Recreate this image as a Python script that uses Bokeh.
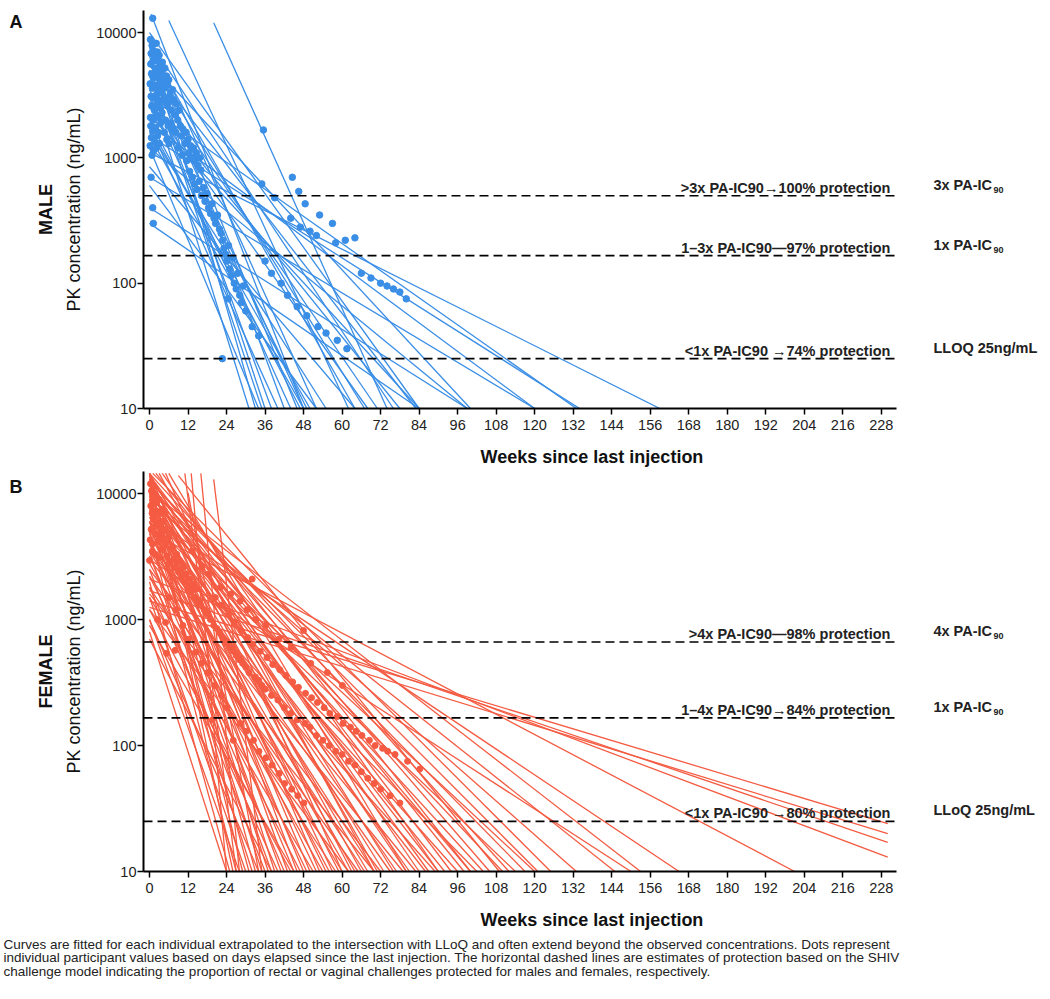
from bokeh.plotting import figure
from bokeh.layouts import column, row
from bokeh.models import Range1d, FixedTicker, PrintfTickFormatter, LogAxis
from bokeh.core.properties import value
from bokeh.embed import file_html
from bokeh.resources import INLINE

# ---------------- data ----------------
week_ticks = [0, 12, 24, 36, 48, 60, 72, 84, 96, 108, 120, 132, 144, 156, 168, 180, 192, 204, 216, 228]
conc_ticks = [10, 100, 1000, 10000]

PA_IC90 = 166
LLOQ = 25

# Male individual fitted lines: start week, start conc, end week, end conc
male_w0 = [0.5, 6, 20, 0, 0, 1, 0, 2, 0, 0, 1, 0, 0, 2, 0, 0, 0, 3, 0, 0, 0, 0, 0, 0, 0, 0, 0, 0, 0, 0, 0, 0, 0, 0, 0, 0, 0, 0, 8, 0]
male_c0 = [14000, 12500, 12000, 9000, 8000, 7000, 6500, 6000, 5000, 4500, 4000, 3500, 3000, 2500, 2000, 1800, 1500, 1300, 1200,
           7500, 6000, 4500, 8500, 3000, 5500, 2200, 2800, 1600, 10000, 1200, 700, 1900, 2500, 1500, 1100, 400, 300, 850, 3500, 600]
male_w1 = [48, 62, 74, 52, 46, 42, 36, 33, 48, 38, 35, 49, 44, 31, 47, 40, 48, 50, 34,
           64, 67, 71, 76, 78, 83, 84, 68, 55, 84, 99, 120, 120, 133, 134, 159, 99, 84, 64, 100, 52]
male_c1 = [10] * 40

# Male observed concentrations
male_dot_week = [0.3, 0.8, 1.0, 0.5, 1.2, 1.6, 2.1, 2.5, 0.4, 1.1, 1.8, 2.4, 3.0, 3.3, 0.6, 1.4, 2.0, 2.8, 3.6, 4.0,
                 0.2, 0.9, 1.7, 2.6, 3.2, 4.2, 0.5, 1.3, 2.2, 3.0, 3.8, 4.5, 0.7, 1.5, 2.4, 3.4, 4.3, 0.3, 1.2, 2.0,
                 2.9, 3.9, 0.4, 1.0, 1.9, 2.7, 3.5, 0.6, 1.6, 2.5, 0.2, 1.3, 2.2, 3.1, 0.8,
                 4.8, 5.3, 5.6, 6.0, 6.4, 4.9, 5.5, 6.2, 6.8, 7.2, 7.5, 8.0, 8.4, 5.0, 5.8, 6.6, 7.4, 8.2, 8.8, 9.2,
                 9.6, 10.0, 4.6, 5.4, 6.1,
                 10.4, 11.0, 11.4, 12.0, 12.3, 12.8, 13.3, 13.7, 14.2, 14.6, 15.1, 15.6, 16.0, 9.0, 10.2, 11.6,
                 12.5, 13.4, 14.0, 14.8, 15.5, 16.2, 16.8, 17.3, 17.9, 18.4, 19.0, 19.5, 20.1, 20.6, 21.2, 21.8, 22.3,
                 22.8, 23.2, 23.7, 24.1, 24.6, 25.0, 25.5, 26.0, 26.4, 27.0, 27.5, 28.1, 28.6, 29.2, 30.0, 22.7, 24.5,
                 0.5, 1.0, 1.2,
                 35.5, 35.0, 39.0, 44.0, 47.0, 50.0, 52.0, 58.0, 61.0, 64.0, 66.0, 69.0, 72.0, 74.0, 76.0, 78.0, 80.0,
                 36.0, 38.0, 41.0, 43.0, 46.0, 49.0, 52.5, 55.0, 58.5, 61.5, 32.0, 34.0, 44.5, 46.5, 48.5, 53.0, 57.0]
male_dot_conc = [8800, 7900, 13000, 6800, 7200, 6400, 8200, 7000, 5600, 5900, 5200, 6000, 6600, 5400, 4700, 4400, 4900, 4300, 4800, 5800,
                 3900, 3600, 3800, 3500, 3900, 4100, 3100, 3000, 3200, 2900, 3300, 3600, 2600, 2400, 2700, 2500, 2800, 2100, 2000, 2200,
                 2100, 2300, 1800, 1650, 1750, 1600, 1900, 1450, 1350, 1500, 1250, 1150, 1200, 1300, 1050,
                 5200, 4500, 3800, 4200, 3200, 3000, 2600, 2800, 2400, 3500, 2900, 2200, 2700, 2000, 1800, 1900, 1700, 1600, 2000, 2400,
                 1800, 1500, 1600, 1400, 1300,
                 1700, 1300, 1600, 1400, 1100, 1250, 1000, 1200, 950, 1100, 870, 1000, 800, 1200, 1050, 950,
                 780, 700, 620, 560, 650, 500, 580, 450, 520, 400, 360, 430, 330, 300, 350, 270, 250,
                 220, 190, 170, 150, 200, 130, 115, 160, 100, 90, 120, 80, 70, 95, 60, 25, 75,
                 700, 400, 300,
                 1670, 620, 480, 330, 280, 260, 240, 210, 220, 230, 120, 110, 100, 95, 90, 85, 75,
                 150, 120, 100, 80, 65, 55, 45, 40, 35, 30, 45, 38, 700, 540, 430, 350, 300]

# Female individual fitted lines
female_w0 = [0, 0, 0, 0, 0, 0, 0, 0, 9, 0, 0, 0, 0, 0, 0, 0, 0, 0, 0, 0,
             0, 0, 0, 0, 0, 0, 0, 0, 0, 0, 0, 0, 0, 0, 0, 0, 0, 0, 0, 0,
             0, 0, 0, 0, 0, 0, 0, 0, 0, 0, 0, 0, 0, 0, 0, 0, 0, 0, 0, 0,
             0, 0, 0, 0, 0, 0, 0, 0, 0, 0, 0, 0, 0, 0, 0, 0, 0, 0, 0, 13,
             16, 20, 12, 11, 0, 0, 0, 0, 2, 4, 6, 3, 5, 1, 0, 0, 0, 0, 0, 0]
female_c0 = [10500, 5000, 6500, 8500, 9500, 12500, 7000, 14500, 13900, 11000, 6000, 13000, 8000, 4500, 10000, 12000, 5500, 14000, 7500, 9000,
             3500, 11500, 6500, 13500, 4000, 8500, 10500, 3000, 7000, 12500, 5000, 9500, 2500, 14500, 6000, 8000, 4000, 11000, 2200, 7000,
             13000, 5500, 3500, 9000, 1800, 12000, 4800, 7500, 2800, 14500, 6000, 1500, 10000, 4000, 8500, 2200, 13000, 5500, 1200, 11000,
             3200, 7000, 1800, 14000, 4500, 9000, 2500, 6000, 1000, 12000, 3500, 8000, 1500, 10000, 1000, 5000, 14500, 2000, 800, 14500,
             14500, 13000, 10200, 14500, 1400, 1250, 1700, 2100, 14500, 14500, 14500, 14500, 14500, 14500, 9500, 3000, 1200, 900, 700, 1600]
female_w1 = [153, 201, 165, 145, 133, 121, 120, 112, 109, 117, 114, 106, 104, 102, 100, 98, 96, 94, 92, 90,
             89, 87, 86, 84, 83, 81, 80, 79, 77, 76, 75, 73, 72, 71, 70, 68, 67, 66, 65, 64,
             63, 62, 60, 59, 58, 57, 56, 55, 54, 53, 52, 51, 50, 49, 48, 47, 46, 45, 44, 43,
             42, 41, 40, 39, 38, 37, 36, 35, 34, 33, 32, 31, 30, 29, 28, 27, 26, 25, 24, 24,
             28, 35, 34, 27, 230, 230, 230, 230, 100, 90, 80, 70, 60, 125, 110, 150, 62, 45, 38, 70]
female_c1 = [10] * 84 + [24, 20, 17, 13] + [10] * 12

female_dot_week = [0.3, 0.6, 1.0, 0.4, 1.4, 1.8, 2.2, 0.8, 1.2, 2.0, 2.6, 3.0, 0.5, 1.6, 2.4, 3.2, 3.8, 0.2, 1.0, 2.8,
                   3.5, 4.2, 4.8, 0.0, 0.9, 1.9, 3.0, 4.0, 5.0, 5.5, 6.0, 6.5, 7.0, 7.5, 8.0, 8.5, 9.0, 9.5, 10.0, 10.5,
                   11.0, 11.5, 12.0, 12.5, 13.0, 13.5, 14.0, 14.5, 15.0, 16.0, 17.0, 18.0, 19.0, 20.0, 21.0, 22.0, 23.0, 24.0, 25.0, 26.0,
                   27.0, 28.0, 29.0, 30.0, 31.0, 32.0, 33.0, 34.0, 35.0, 36.0, 38.0, 40.0, 42.0, 44.0, 46.0, 48.0, 48.5, 50.0, 52.0, 54.0,
                   56.0, 58.0, 60.0, 62.0, 64.0, 66.0, 68.0, 70.0, 72.0, 75.0, 78.0, 2.5, 5.0, 5.3, 8.0,
                   6.2, 8.3, 10.4, 12.1, 14.3, 16.2, 18.1, 19.6, 20.3, 22.4, 24.2, 26.1, 28.3, 30.2, 32.4, 34.1, 36.3, 38.2, 40.4, 42.1,
                   44.3, 46.2, 48.1, 20.5, 22.2, 24.6, 26.4, 28.5, 30.6, 32.2, 34.5, 36.6, 38.4, 40.6, 42.5, 44.6, 46.4, 48.6, 50.5, 52.3,
                   54.4, 56.2, 58.5, 60.3, 62.6, 64.4, 66.2, 68.5, 70.3, 72.6, 74.2, 76.5, 80.4, 84.2,
                   22.1, 25.3, 28.2, 30.4, 33.1, 36.2, 40.3, 44.1, 50.2, 55.4, 60.1, 16.3, 18.4, 13.2]
female_dot_conc = [12000, 10500, 9000, 8000, 11500, 9800, 8500, 7000, 6200, 7200, 6800, 9000, 5200, 5500, 4800, 5800, 7500, 4300, 4000, 4200,
                   4600, 6000, 5100, 2950, 3500, 3300, 3100, 3600, 4000, 3200, 4500, 2800, 3700, 3000, 2600, 3300, 2400, 2900, 2200, 2600,
                   2000, 2300, 1800, 2100, 1700, 1900, 1500, 1750, 1400, 1300, 1200, 1100, 1000, 900, 850, 780, 700, 650, 600, 560,
                   520, 480, 450, 420, 380, 2100, 350, 330, 300, 280, 250, 230, 200, 180, 160, 820, 150, 140, 120, 110,
                   100, 90, 85, 75, 70, 62, 55, 50, 45, 40, 35, 1000, 950, 540, 570,
                   1500, 1200, 900, 700, 550, 450, 380, 160, 300, 250, 200, 110, 150, 130, 110, 90, 80, 70, 60, 50,
                   45, 40, 35, 1500, 1300, 1100, 950, 820, 720, 640, 560, 500, 440, 400, 360, 320, 290, 260, 240, 220,
                   200, 180, 170, 150, 140, 130, 120, 110, 100, 95, 90, 85, 75, 65,
                   1800, 1600, 1400, 1200, 1000, 900, 700, 600, 450, 380, 300, 2600, 2300, 3500]

male_levels = [3 * PA_IC90, PA_IC90, LLOQ]
male_protection = [">3x PA-IC90\u2192100% protection", "1\u20133x PA-IC90\u201497% protection", "<1x PA-IC90 \u219274% protection"]
male_level_names = ["3x PA-IC", "1x PA-IC", "LLOQ 25ng/mL"]
male_level_subs = ["90", "90", ""]

female_levels = [4 * PA_IC90, PA_IC90, LLOQ]
female_protection = [">4x PA-IC90\u201498% protection", "1\u20134x PA-IC90\u219284% protection", "<1x PA-IC90 \u219280% protection"]
female_level_names = ["4x PA-IC", "1x PA-IC", "LLoQ 25ng/mL"]
female_level_subs = ["90", "90", ""]

caption_lines = [
    "Curves are fitted for each individual extrapolated to the intersection with LLoQ and often extend beyond the observed concentrations. Dots represent",
    "individual participant values based on days elapsed since the last injection. The horizontal dashed lines are estimates of protection based on the SHIV",
    "challenge model indicating the proportion of rectal or vaginal challenges protected for males and females, respectively.",
]

# ---------------- layout constants ----------------
FONT = "Liberation Sans"
X_START, X_END, AXIS_END = -1.87, 277.6, 232.7
Y_START, Y_END = 10, 15000
PX_PER_WEEK = 3.21
FRAME_LEFT = 143
FRAME_H = 401
SIDE_W = 30
MAIN_W = 1012
TOTAL_W = SIDE_W + MAIN_W


def page_x(px):
    return X_START + (px - FRAME_LEFT) / PX_PER_WEEK


def blank_fig(width, height):
    f = figure(width=width, height=height, x_range=Range1d(0, width), y_range=Range1d(0, height),
               x_axis_location=None, y_axis_location=None, min_border=0,
               output_backend="svg", toolbar_location=None)
    f.outline_line_color = None
    f.grid.visible = False
    return f


def side_panel(height, letter, letter_mid):
    f = blank_fig(SIDE_W, height)
    f.text([9], [height - letter_mid], text=[letter], text_font=value(FONT), text_font_size="18px",
           text_font_style="bold", text_color="#111111", text_align="left", text_baseline="middle")
    return f


def make_panel(height, top, color, dot_size, lw0, lc0, lw1, lc1, dw, dc, levels, prot, names, subs, sex):
    p = figure(width=MAIN_W, height=height, y_axis_type="log",
               x_range=Range1d(X_START, X_END), y_range=Range1d(Y_START, Y_END),
               output_backend="svg", toolbar_location=None,
               min_border_left=FRAME_LEFT - SIDE_W, min_border_right=2, min_border_top=top,
               min_border_bottom=height - top - FRAME_H)
    p.outline_line_color = None
    p.grid.visible = False

    xs = [[a, b] for a, b in zip(lw0, lw1)]
    ys = [[a, b] for a, b in zip(lc0, lc1)]
    p.multi_line(xs, ys, line_color=color, line_width=1.3)
    p.scatter(dw, dc, size=dot_size, color=color, line_color=color)

    p.multi_line([[X_START, AXIS_END]] * len(levels), [[v, v] for v in levels],
                 line_color="black", line_width=1.6, line_dash="9 5")
    p.text([page_x(890)] * len(levels), levels, text=prot, text_font=value(FONT),
           text_font_size="14.5px", text_font_style="bold", text_color="#222222",
           text_align="right", text_baseline="alphabetic", y_offset=-8)
    p.text([page_x(933)] * len(levels), levels, text=names, text_font=value(FONT),
           text_font_size="14.5px", text_font_style="bold", text_color="#222222",
           text_align="left", text_baseline="middle", y_offset=-11)
    p.text([page_x(993)] * len(levels), levels, text=subs, text_font=value(FONT),
           text_font_size="9px", text_font_style="bold", text_color="#222222",
           text_align="left", text_baseline="middle", y_offset=-6)

    ax = p.xaxis[0]
    ax.bounds = (X_START, AXIS_END)
    ax.ticker = FixedTicker(ticks=week_ticks)
    ax.axis_label = "Weeks since last injection"
    ay = p.yaxis[0]
    ay.ticker = FixedTicker(ticks=conc_ticks)
    ay.formatter = PrintfTickFormatter(format="%d")
    ay.axis_label = "PK concentration (ng/mL)"
    for a in (ax, ay):
        a.axis_line_width = 2
        a.axis_line_color = "black"
        a.major_tick_line_color = "black"
        a.major_tick_line_width = 1.5
        a.major_tick_out = 6
        a.major_tick_in = 0
        a.minor_tick_line_color = None
        a.major_label_text_font = FONT
        a.major_label_text_font_size = "14.5px"
        a.major_label_text_color = "#222222"
        a.axis_label_text_font = FONT
        a.axis_label_text_color = "#111111"
    ax.major_label_standoff = 5
    ay.major_label_standoff = 1
    ax.axis_label_text_font_size = "18px"
    ax.axis_label_text_font_style = "bold"
    ax.axis_label_standoff = 14
    ay.axis_label_text_font_size = "18px"
    ay.axis_label_text_font_style = "normal"
    ay.axis_label_standoff = 9

    # outer axis carrying only the sex label (vertically centred on the frame)
    sex_axis = LogAxis(ticker=FixedTicker(ticks=[]), axis_label=sex, axis_line_color=None,
                       major_tick_line_color=None, minor_tick_line_color=None,
                       major_label_text_font_size="0px", major_tick_out=0, major_label_standoff=0,
                       axis_label_standoff=6, axis_label_text_font=FONT, axis_label_text_font_size="18px",
                       axis_label_text_font_style="bold", axis_label_text_color="#111111")
    p.add_layout(sex_axis, "left")
    return p


HA, HB, HC = 469, 463, 63
pa = make_panel(HA, 10, "#3A8EE6", 6.5, male_w0, male_c0, male_w1, male_c1,
                male_dot_week, male_dot_conc, male_levels, male_protection, male_level_names, male_level_subs, "MALE")
pb = make_panel(HB, 2, "#F45B42", 6, female_w0, female_c0, female_w1, female_c1,
                female_dot_week, female_dot_conc, female_levels, female_protection, female_level_names, female_level_subs,
                "FEMALE")

sa = side_panel(HA, "A", 14)
sb = side_panel(HB, "B", 487 - HA)

cap = blank_fig(TOTAL_W, HC)
cap.text([3] * len(caption_lines), [HC - 4, HC - 17.5, HC - 31], text=caption_lines, text_font=value(FONT),
         text_font_size="13.5px", text_color="#222222", text_align="left", text_baseline="top")

layout = column(row(sa, pa, spacing=0), row(sb, pb, spacing=0), cap, spacing=0)
open("out.html", "w").write(file_html(layout, INLINE))
